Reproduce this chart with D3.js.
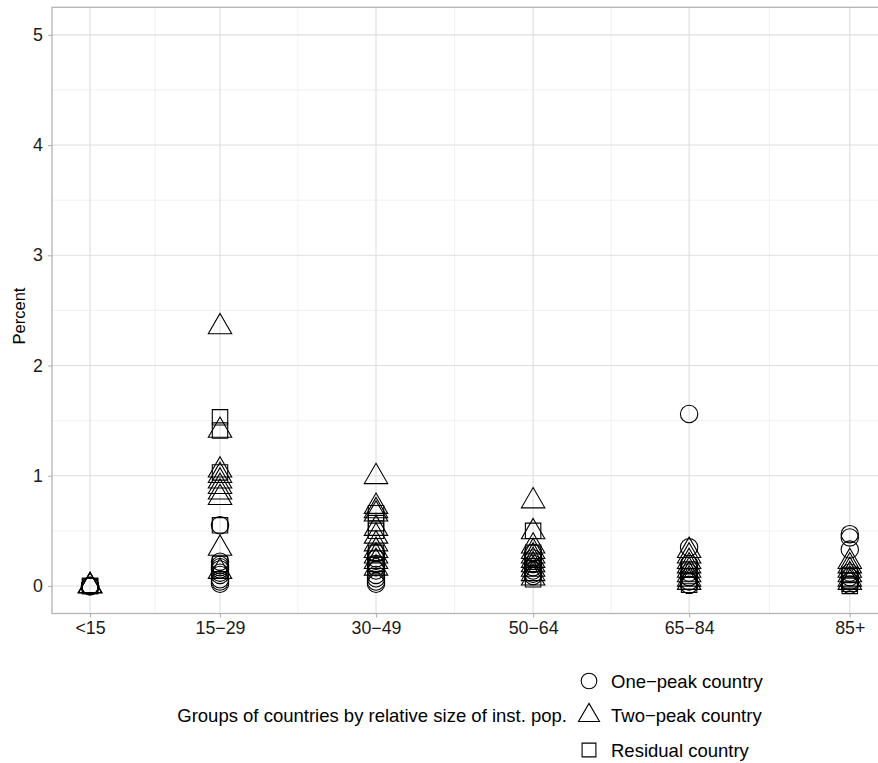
<!DOCTYPE html>
<html lang="en">
<head>
    <meta charset="utf-8">
    <script src="https://d3js.org/d3.v7.min.js"></script>
    <style>
        body { margin: 0; background: #fff; }
        text { font-family: "Liberation Sans", Arial, Helvetica, sans-serif; }
    </style>
</head>
<body>
    <div id="my_dataviz"></div>

    <script>
        // age groups and where they sit on the (numeric) x axis
        const groups = ["<15", "15\u221229", "30\u221249", "50\u221264", "65\u221284", "85+"];
        const groupPos = [0, 0.833, 1.833, 2.84, 3.84, 4.87];

        // percent values, one array per age group, for each country type
        const onePeak = [
            [0, 0, 0, 0],
            [0.55, 0.22, 0.19, 0.17, 0.15, 0.12, 0.1, 0.06, 0.04, 0.02],
            [0.3, 0.25, 0.2, 0.17, 0.14, 0.1, 0.07, 0.04, 0.02],
            [0.3, 0.25, 0.2, 0.17, 0.14, 0.11, 0.09],
            [1.56, 0.35, 0.2, 0.12, 0.08, 0.04, 0.01],
            [0.47, 0.44, 0.33, 0.12, 0.08, 0.04, 0.01]
        ];
        const twoPeak = [
            [0, 0, 0],
            [2.35, 1.41, 1.05, 1.0, 0.95, 0.9, 0.85, 0.8, 0.34, 0.13],
            [0.99, 0.72, 0.68, 0.65, 0.52, 0.45, 0.38, 0.32, 0.27, 0.22, 0.16],
            [0.77, 0.49, 0.36, 0.31, 0.27, 0.23, 0.19, 0.15, 0.11, 0.07],
            [0.32, 0.27, 0.22, 0.18, 0.14, 0.1, 0.06, 0.03],
            [0.22, 0.18, 0.14, 0.1, 0.06, 0.03]
        ];
        const residual = [
            [0, 0],
            [1.53, 1.41, 1.03, 0.55, 0.2],
            [0.66, 0.57, 0.5, 0.3, 0.2],
            [0.5, 0.3, 0.22, 0.12, 0.06],
            [0.15, 0.09, 0.04, 0.01],
            [0.1, 0.05, 0.02, 0]
        ];
        const yTicks = [0, 1, 2, 3, 4, 5];
        const seriesNames = ["One\u2212peak country", "Two\u2212peak country", "Residual country"];
        const seriesShapes = ["circle", "triangle", "square"];

        const W = 878, H = 763;
        const panel = { left: 52, top: 7.3, bottom: 613.5, right: 900 };

        const svg = d3.select("#my_dataviz")
            .append("svg")
            .attr("width", W)
            .attr("height", H);

        const x = d3.scaleLinear()
            .domain([-0.244, 5.19])
            .range([panel.left, panel.left + 5.434 * 156]);
        const y = d3.scaleLinear()
            .domain([-0.25, 5.25])
            .range([panel.bottom, panel.top]);

        // open shapes like R's pch 1 / 2 / 0
        function shapePath(shape, r) {
            if (shape === "circle") {
                const p = d3.path();
                p.arc(0, 0, r, 0, 2 * Math.PI);
                return p.toString();
            }
            if (shape === "triangle") {
                const t = 1.5551 * r, hw = 1.3468 * r, b = 0.7776 * r;
                return `M0,${-t}L${hw},${b}L${-hw},${b}Z`;
            }
            const s = 0.8862 * r;
            return `M${-s},${-s}H${s}V${s}H${-s}Z`;
        }

        // gridlines
        const grid = svg.append("g");
        const minorY = d3.range(0.5, 5, 1);
        const minorX = d3.pairs(groupPos).map(p => (p[0] + p[1]) / 2);
        grid.selectAll(".minor-y").data(minorY).join("line")
            .attr("x1", panel.left).attr("x2", W)
            .attr("y1", d => y(d)).attr("y2", d => y(d))
            .attr("stroke", "#ebebeb").attr("stroke-width", 0.7);
        grid.selectAll(".minor-x").data(minorX).join("line")
            .attr("x1", d => x(d)).attr("x2", d => x(d))
            .attr("y1", panel.top).attr("y2", panel.bottom)
            .attr("stroke", "#ebebeb").attr("stroke-width", 0.7);
        grid.selectAll(".major-y").data(yTicks).join("line")
            .attr("x1", panel.left).attr("x2", W)
            .attr("y1", d => y(d)).attr("y2", d => y(d))
            .attr("stroke", "#dedede").attr("stroke-width", 1.1);
        grid.selectAll(".major-x").data(groupPos).join("line")
            .attr("x1", d => x(d)).attr("x2", d => x(d))
            .attr("y1", panel.top).attr("y2", panel.bottom)
            .attr("stroke", "#dedede").attr("stroke-width", 1.1);

        // points
        const points = [];
        [onePeak, twoPeak, residual].forEach((series, si) => {
            series.forEach((vals, gi) => {
                vals.forEach(v => points.push({ g: gi, v: v, shape: seriesShapes[si] }));
            });
        });
        svg.append("g").selectAll("path").data(points).join("path")
            .attr("transform", d => `translate(${x(groupPos[d.g])},${y(d.v)})`)
            .attr("d", d => shapePath(d.shape, 8.7))
            .attr("fill", "none")
            .attr("stroke", "#000")
            .attr("stroke-width", 1.1);

        // panel border
        svg.append("rect")
            .attr("x", panel.left).attr("y", panel.top)
            .attr("width", panel.right - panel.left)
            .attr("height", panel.bottom - panel.top)
            .attr("fill", "none")
            .attr("stroke", "#b3b3b3")
            .attr("stroke-width", 1.3);

        // axes
        const yAxis = svg.append("g")
            .attr("transform", `translate(${panel.left},0)`)
            .call(d3.axisLeft(y).tickValues(yTicks).tickSize(4).tickPadding(5).tickFormat(d3.format("d")));
        const xAxis = svg.append("g")
            .attr("transform", `translate(0,${panel.bottom})`)
            .call(d3.axisBottom(x).tickValues(groupPos).tickSize(4).tickPadding(4)
                .tickFormat((d, i) => groups[i]));
        [xAxis, yAxis].forEach(a => {
            a.select(".domain").remove();
            a.selectAll(".tick line").attr("stroke", "#b3b3b3").attr("stroke-width", 1.1);
            a.selectAll(".tick text")
                .attr("fill", "#1a1a1a")
                .style("font-size", "17.8px");
        });

        // y axis title
        svg.append("text")
            .attr("transform", `translate(24.5,316) rotate(-90)`)
            .attr("text-anchor", "middle")
            .style("font-size", "16.5px")
            .attr("fill", "#000")
            .text("Percent");

        // legend
        const legend = svg.append("g");
        const keyX = 589, keyY0 = 681, keyStep = 34.5;
        legend.append("text")
            .attr("x", 567).attr("y", keyY0 + keyStep)
            .attr("text-anchor", "end")
            .attr("dominant-baseline", "central")
            .style("font-size", "18.5px")
            .attr("fill", "#000")
            .text("Groups of countries by relative size of inst. pop.");
        const rows = legend.selectAll(".row").data(seriesNames).join("g")
            .attr("transform", (d, i) => `translate(${keyX},${keyY0 + i * keyStep})`);
        rows.append("path")
            .attr("d", (d, i) => shapePath(seriesShapes[i], 7.8))
            .attr("fill", "none")
            .attr("stroke", "#000")
            .attr("stroke-width", 1.1);
        rows.append("text")
            .attr("x", 22)
            .attr("dominant-baseline", "central")
            .style("font-size", "18.5px")
            .attr("fill", "#000")
            .text(d => d);
    </script>
</body>
</html>
